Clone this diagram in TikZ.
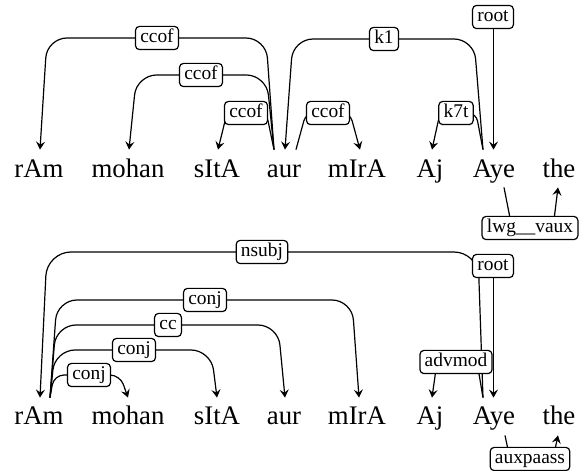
\documentclass[tikz,border=0pt]{standalone}
\usepackage{fontspec}
\setmainfont{Liberation Serif}
\usetikzlibrary{arrows.meta,backgrounds}

\begin{document}
\begin{tikzpicture}[x=0.5pt,y=-0.5pt,
  word/.style={anchor=base,inner sep=0pt,text height=13.5pt,text depth=5pt,font=\fontsize{13.4}{16}\selectfont},
  deplabel/.style={draw,fill=white,rounded corners=2pt,line width=0.6pt,inner xsep=2.4pt,inner ysep=1.2pt,text height=7pt,text depth=2.2pt,font=\fontsize{9.7}{11}\selectfont},
  deparc/.style={-{Stealth[length=4pt,width=4.5pt,inset=1.5pt]},line width=0.6pt,rounded corners=10pt}]
\useasboundingbox (0,0) rectangle (586,471);

%%% First sentence
\node[word] (rAm1) at (39,177) {rAm};
\node[word] (mohan1) at (128,177) {mohan};
\node[word] (sItA1) at (217,177) {sItA};
\node[word] (aur1) at (284,177) {aur};
\node[word] (mIrA1) at (357,177) {mIrA};
\node[word] (Aj1) at (430,177) {Aj};
\node[word] (Aye1) at (494,177) {Aye};
\node[word] (the1) at (559,177) {the};

\node[deplabel] (ccofA) at (157,38) {ccof};
\node[deplabel] (ccofB) at (201,75) {ccof};
\node[deplabel] (ccofC) at (246,113) {ccof};
\node[deplabel] (kone) at (384,39) {k1};
\node[deplabel] (ccofD) at (328,113) {ccof};
\node[deplabel] (ksevent) at (456,113) {k7t};
\node[deplabel] (rootA) at (493,17) {root};
\node[deplabel] (lwgvaux) at (530,228) {lwg\_\_vaux};

%%% Second sentence
\node[word] (rAm2) at (39,425) {rAm};
\node[word] (mohan2) at (128,425) {mohan};
\node[word] (sItA2) at (217,425) {sItA};
\node[word] (aur2) at (284,425) {aur};
\node[word] (mIrA2) at (357,425) {mIrA};
\node[word] (Aj2) at (430,425) {Aj};
\node[word] (Aye2) at (494,425) {Aye};
\node[word] (the2) at (559,425) {the};

\node[deplabel] (nsubj) at (262,252) {nsubj};
\node[deplabel] (conjA) at (205,300) {conj};
\node[deplabel] (cc) at (168,325) {cc};
\node[deplabel] (conjB) at (134,350) {conj};
\node[deplabel] (conjC) at (89,375) {conj};
\node[deplabel] (rootB) at (493,266) {root};
\node[deplabel] (advmod) at (456,362) {advmod};
\node[deplabel] (auxpaass) at (530,459) {auxpaass};

\begin{scope}[on background layer]
%%% arcs of the first sentence
\draw[deparc] ([xshift=-5pt]aur1.north) -- ([xshift=-9pt]aur1.north |- ccofA) -- ([xshift=4pt]rAm1.north |- ccofA) -- ([xshift=0.5pt]rAm1.north);
\draw[deparc] ([xshift=-5pt]aur1.north) -- ([xshift=-8.8pt]aur1.north |- ccofB) -- ([xshift=4.3pt]mohan1.north |- ccofB) -- ([xshift=0.5pt]mohan1.north);
\draw[deparc,rounded corners=4pt] ([xshift=-5pt]aur1.north) -- ([xshift=-8.8pt]aur1.north |- ccofC) -- ([xshift=5pt]sItA1.north |- ccofC) -- ([xshift=0.5pt]sItA1.north);
\draw[deparc] ([xshift=-5.5pt]Aye1.north) -- ([xshift=-10pt]Aye1.north |- kone) -- ([xshift=4.5pt]aur1.north |- kone) -- ([xshift=0.5pt]aur1.north);
\draw[deparc,rounded corners=4pt] ([xshift=6pt]aur1.north) -- ([xshift=11pt]aur1.north |- ccofD) -- ([xshift=-3.5pt]mIrA1.north |- ccofD) -- ([xshift=1.5pt]mIrA1.north);
\draw[deparc,rounded corners=4pt] ([xshift=-5.5pt]Aye1.north) -- ([xshift=-9pt]Aye1.north |- ksevent) -- ([xshift=5pt]Aj1.north |- ksevent) -- ([xshift=1pt]Aj1.north);
\draw[deparc] ([xshift=0.25pt]rootA.center) -- ([xshift=0.25pt]rootA |- Aye1.north);
\draw[deparc,rounded corners=4pt] ([xshift=5pt]Aye1.south) -- ([xshift=9pt]Aye1.south |- lwgvaux) -- ([xshift=-3pt]the1.south |- lwgvaux) -- ([xshift=-0.5pt]the1.south);

%%% arcs of the second sentence
\draw[deparc,rounded corners=12pt] ([xshift=-5.5pt]Aye2.north) -- ([xshift=-8pt]Aye2.north |- nsubj) -- ([xshift=4pt]rAm2.north |- nsubj) -- ([xshift=0.5pt]rAm2.north);
\draw[deparc] ([xshift=0.25pt]rootB.center) -- ([xshift=0.25pt]rootB |- Aye2.north);
\draw[deparc] ([xshift=5.5pt]rAm2.north) -- ([xshift=9pt]rAm2.north |- conjA) -- ([xshift=-2.5pt]mIrA2.north |- conjA) -- ([xshift=1pt]mIrA2.north);
\draw[deparc] ([xshift=5.5pt]rAm2.north) -- ([xshift=8.5pt]rAm2.north |- cc) -- ([xshift=-3pt]aur2.north |- cc) -- ([xshift=0.5pt]aur2.north);
\draw[deparc] ([xshift=5.5pt]rAm2.north) -- ([xshift=8pt]rAm2.north |- conjB) -- ([xshift=-3pt]sItA2.north |- conjB) -- (sItA2.north);
\draw[deparc,rounded corners=5pt] ([xshift=5.5pt]rAm2.north) -- ([xshift=7.5pt]rAm2.north |- conjC) -- ([xshift=-4pt]mohan2.north |- conjC) -- (mohan2.north);
\draw[deparc,rounded corners=4pt] ([xshift=-5.5pt]Aye2.north) -- ([xshift=-8.5pt]Aye2.north |- advmod) -- ([xshift=3.5pt]Aj2.north |- advmod) -- ([xshift=1pt]Aj2.north);
\draw[deparc,rounded corners=4pt] ([xshift=5.5pt]Aye2.south) -- ([xshift=8pt]Aye2.south |- auxpaass) -- ([xshift=-3pt]the2.south |- auxpaass) -- ([xshift=-0.5pt]the2.south);
\end{scope}
\end{tikzpicture}
\end{document}
